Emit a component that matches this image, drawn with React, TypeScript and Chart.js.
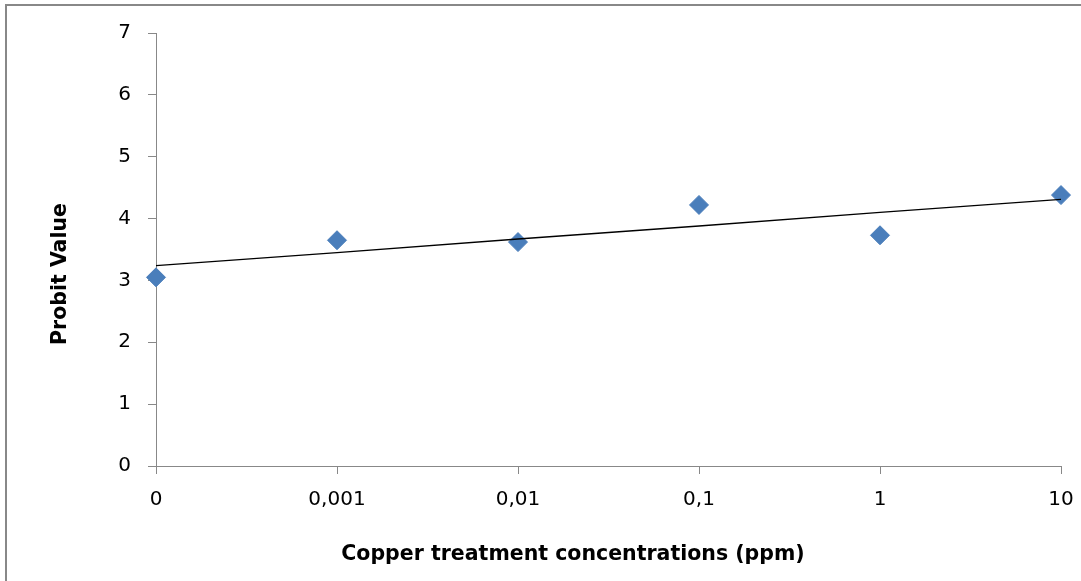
import React, { useEffect, useRef } from "react";
import { Chart, registerables } from "chart.js";

Chart.register(...registerables);

const categories = ["0", "0,001", "0,01", "0,1", "1", "10"];
const probitValues = [3.05, 3.65, 3.62, 4.22, 3.73, 4.38];
const trendValues = [3.24, 3.45, 3.67, 3.88, 4.1, 4.31];
const yTicks = [0, 1, 2, 3, 4, 5, 6, 7];
const xTitle = "Copper treatment concentrations (ppm)";
const yTitle = "Probit Value";

const framePlugin = {
  id: "frame",
  beforeDraw(chart: any) {
    const ctx = chart.ctx;
    ctx.save();
    ctx.fillStyle = "#fff";
    ctx.fillRect(0, 0, chart.width, chart.height);
    ctx.fillStyle = "#888";
    ctx.fillRect(5, 4, chart.width - 5, 2);
    ctx.fillRect(5, 4, 2, chart.height - 4);
    ctx.restore();
  },
};

const axisTitlePlugin = {
  id: "axisTitles",
  afterDraw(chart: any) {
    const ctx = chart.ctx;
    ctx.save();
    ctx.fillStyle = "#000";
    ctx.font = "bold 20.5px 'DejaVu Sans'";
    ctx.textAlign = "center";
    ctx.textBaseline = "middle";
    ctx.fillText(xTitle, 573, 555);
    ctx.translate(61, 274);
    ctx.rotate(-Math.PI / 2);
    ctx.fillText(yTitle, 0, 0);
    ctx.restore();
  },
};

export default function App() {
  const ref = useRef<HTMLCanvasElement | null>(null);
  useEffect(() => {
    if (!ref.current) return;
    const chart = new Chart(ref.current, {
      type: "line",
      data: {
        labels: categories,
        datasets: [
          {
            label: "Probit",
            data: probitValues,
            showLine: false,
            pointStyle: "rectRot",
            pointRadius: 9.5,
            pointBorderWidth: 1,
            backgroundColor: "#4A7EBB",
            borderColor: "#4A7EBB",
            order: 2,
          },
          {
            label: "Trend",
            data: trendValues,
            borderColor: "#000",
            borderWidth: 1.3,
            pointRadius: 0,
            tension: 0,
            fill: false,
            order: 1,
          },
        ],
      },
      options: {
        responsive: false,
        animation: false,
        layout: { padding: { left: 0, top: 33, right: 20, bottom: 0 } },
        plugins: { legend: { display: false }, tooltip: { enabled: false } },
        scales: {
          x: {
            type: "category",
            offset: false,
            grid: {
              display: true,
              drawOnChartArea: false,
              drawTicks: true,
              tickLength: 8,
              color: "#888",
            },
            border: { color: "#888", width: 1 },
            ticks: {
              color: "#000",
              font: { family: "'DejaVu Sans'", size: 20 },
              padding: 14,
              maxRotation: 0,
              autoSkip: false,
            },
            afterFit: (scale: any) => {
              scale.height = 115;
              scale.paddingLeft = 0;
              scale.paddingRight = 0;
            },
          },
          y: {
            min: 0,
            max: 7,
            afterBuildTicks: (scale: any) => {
              scale.ticks = yTicks.map((v) => ({ value: v }));
            },
            grid: {
              display: true,
              drawOnChartArea: false,
              drawTicks: true,
              tickLength: 8,
              color: "#888",
            },
            border: { color: "#888", width: 1 },
            ticks: {
              color: "#000",
              font: { family: "'DejaVu Sans'", size: 20 },
              padding: 17,
            },
            afterFit: (scale: any) => {
              scale.width = 156;
              scale.paddingTop = 0;
              scale.paddingBottom = 0;
            },
          },
        },
      },
      plugins: [framePlugin, axisTitlePlugin],
    });
    return () => chart.destroy();
  }, []);

  return (
    <div
      style={{
        position: "fixed",
        left: 0,
        top: 0,
        width: 1081,
        height: 581,
        overflow: "hidden",
        background: "#fff",
      }}
    >
      <canvas
        ref={ref}
        width={1081}
        height={581}
        style={{ position: "absolute", left: 0, top: 0, display: "block" }}
      />
    </div>
  );
}
